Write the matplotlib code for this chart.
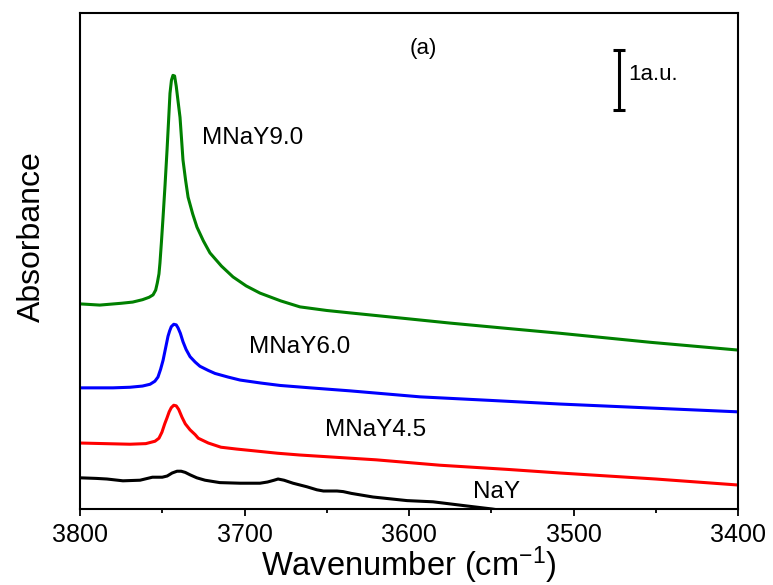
import numpy as np
import matplotlib
matplotlib.use('Agg')
from matplotlib import pyplot as plt
from matplotlib.ticker import MultipleLocator

plt.rcParams['font.family'] = ['Liberation Sans', 'DejaVu Sans']
plt.rcParams['mathtext.fontset'] = 'custom'
plt.rcParams['mathtext.rm'] = 'Liberation Sans'
plt.rcParams['mathtext.it'] = 'Liberation Sans:italic'

# Spectra (wavenumber in cm-1, absorbance in a.u., stacked)
wn_9 = [3800, 3788, 3775, 3768, 3762, 3758, 3755.6, 3754, 3753, 3752, 3751.4, 3750.5,
        3749.5, 3748.3, 3747.1, 3746.2, 3745.3, 3744.4, 3743.5, 3742.5, 3741.5, 3740.4,
        3739.2, 3738.3, 3737.4, 3735.8, 3734.3, 3731.5, 3728.9, 3725, 3721, 3714, 3707,
        3699, 3690.6, 3678, 3666.3, 3650, 3635.9, 3600, 3575.1, 3540, 3508.2, 3453.5, 3400]
ab_9 = [3.42, 3.40, 3.43, 3.45, 3.49, 3.53, 3.57, 3.65, 3.77, 3.92, 4.10, 4.45,
        4.87, 5.40, 5.98, 6.45, 6.93, 7.15, 7.23, 7.22, 7.05, 6.80,
        6.53, 6.18, 5.82, 5.48, 5.20, 4.92, 4.70, 4.47, 4.27, 4.05, 3.87,
        3.72, 3.60, 3.47, 3.37, 3.31, 3.27, 3.17, 3.10, 3.01, 2.93, 2.78, 2.65]

wn_6 = [3800, 3780, 3769.6, 3762, 3757.4, 3754.5, 3752.6, 3751, 3749.5, 3748, 3746.5,
        3745.5, 3744.5, 3743, 3741.5, 3740.4, 3739, 3737.4, 3735.5, 3733.1, 3730, 3727.1,
        3722, 3717.9, 3710, 3702.7, 3690, 3678.4, 3660, 3635.9, 3593.3, 3550, 3508.2,
        3450, 3400]
ab_6 = [2.02, 2.02, 2.03, 2.05, 2.08, 2.13, 2.20, 2.33, 2.48, 2.68, 2.88,
        2.97, 3.04, 3.08, 3.07, 3.02, 2.93, 2.79, 2.66, 2.54, 2.45, 2.38,
        2.31, 2.26, 2.20, 2.15, 2.10, 2.06, 2.02, 1.97, 1.87, 1.81, 1.75,
        1.68, 1.62]

wn_45 = [3800, 3785, 3769.6, 3760, 3754.4, 3752, 3750.2, 3748.5, 3747.1, 3745.8, 3744.5,
         3743, 3741.5, 3740, 3738, 3736, 3733.1, 3730, 3728.1, 3722, 3714.3, 3705, 3694.2,
         3680, 3666.3, 3620, 3581.2, 3540, 3508.2, 3450, 3400]
ab_45 = [1.10, 1.09, 1.08, 1.09, 1.13, 1.18, 1.28, 1.42, 1.52, 1.62, 1.69,
         1.73, 1.72, 1.66, 1.53, 1.42, 1.32, 1.24, 1.18, 1.10, 1.03, 1.00, 0.97,
         0.93, 0.90, 0.82, 0.73, 0.66, 0.60, 0.50, 0.40]

wn_nay = [3800, 3790, 3783.6, 3773.9, 3763.5, 3759, 3756, 3750, 3747, 3744, 3741, 3738.5,
          3736, 3733.1, 3729, 3724, 3715, 3702.7, 3690.6, 3686, 3682, 3679.6, 3676, 3670.5,
          3662, 3656, 3652, 3643.8, 3640, 3635, 3621.9, 3601.2, 3585.4, 3564.7, 3549.5,
          3532.5]
ab_nay = [0.52, 0.51, 0.50, 0.47, 0.48, 0.51, 0.53, 0.53, 0.55, 0.60, 0.63, 0.63,
          0.61, 0.57, 0.52, 0.48, 0.44, 0.43, 0.43, 0.45, 0.48, 0.50, 0.48, 0.43,
          0.37, 0.32, 0.30, 0.30, 0.29, 0.26, 0.20, 0.14, 0.12, 0.05, 0.00,
          -0.07]

fig = plt.figure(figsize=(7.73, 5.85), dpi=100)
ax = fig.add_axes([80/773, 1 - 509/585, 658/773, 496/585])

lw = 2.2
ax.plot(wn_9, ab_9, color='#008000', lw=lw, solid_joinstyle='round')
ax.plot(wn_6, ab_6, color='#0000ff', lw=lw, solid_joinstyle='round')
ax.plot(wn_45, ab_45, color='#ff0000', lw=lw, solid_joinstyle='round')
ax.plot(wn_nay, ab_nay, color='black', lw=lw, solid_joinstyle='round')

# curve labels
Nsize = 17.5
ax.text(3726, 6.18, 'MNaY9.0', fontsize=Nsize, va='center')
ax.text(3697, 2.70, 'MNaY6.0', fontsize=Nsize, va='center')
ax.text(3651, 1.32, 'MNaY4.5', fontsize=Nsize, va='center')
ax.text(3561, 0.28, 'NaY', fontsize=Nsize, va='center')
ax.text(3591.5, 7.68, '(a)', fontsize=16, ha='center', va='center')

# 1 a.u. scale bar
ax.errorbar([3472.3], [7.15], yerr=[0.5], color='black', lw=2.2, capsize=4, capthick=2.2)
ax.text(3467, 7.25, '1a.u.', fontsize=16, va='center')

ax.set_xlim(3800, 3400)
ax.set_ylim(0, 8.27)
ax.xaxis.set_major_locator(MultipleLocator(100))
ax.xaxis.set_minor_locator(MultipleLocator(50))
ax.set_yticks([])
ax.tick_params(axis='x', which='major', direction='out', length=5, width=1.3, labelsize=18, pad=5)
ax.tick_params(axis='x', which='minor', direction='out', length=3, width=1.3)
for s in ax.spines.values():
    s.set_linewidth(1.5)

ax.set_xlabel(r'Wavenumber (cm$^{-1}$)', fontsize=23.5)
ax.set_ylabel('Absorbance', fontsize=23)
ax.xaxis.set_label_coords(0.5, -0.072)
ax.yaxis.set_label_coords(-0.05, 0.55)

plt.savefig('out.png', dpi=100)
